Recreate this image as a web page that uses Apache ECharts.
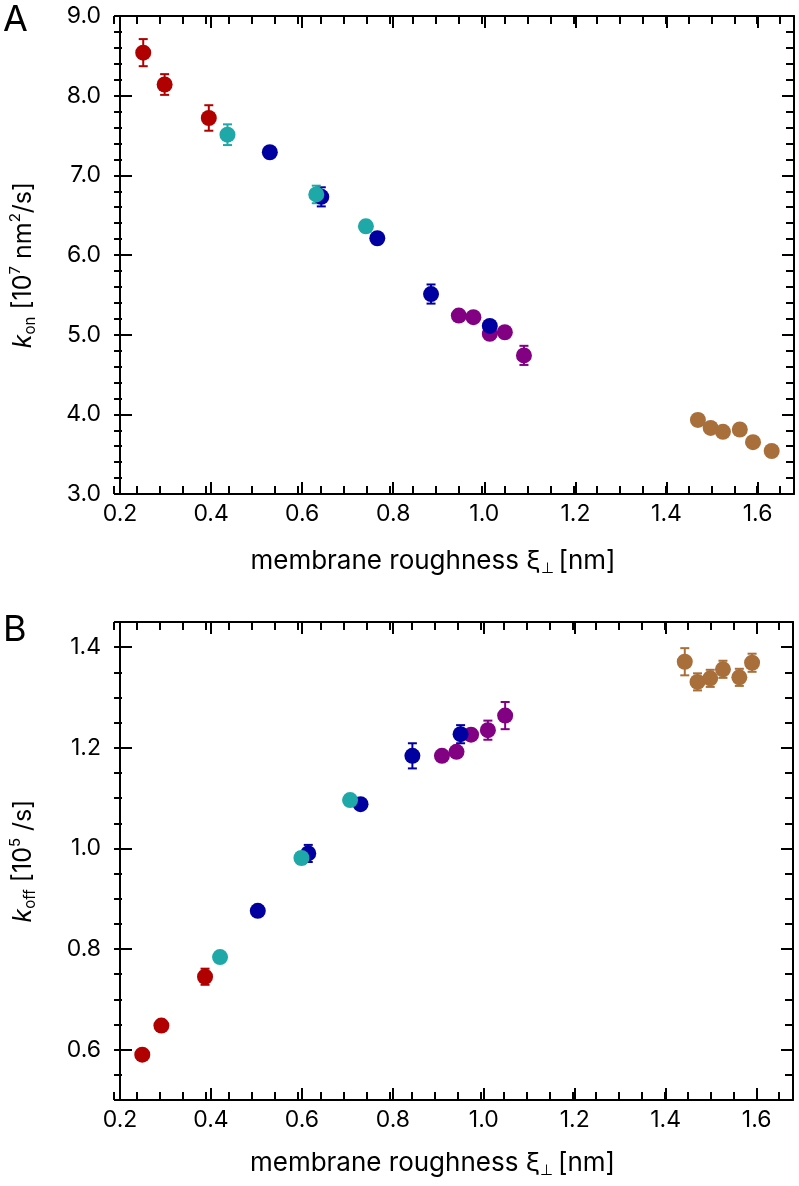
<!DOCTYPE html>
<html><head><meta charset="utf-8">
<script src="https://cdn.jsdelivr.net/npm/echarts@6/dist/echarts.min.js"></script>
<style>html,body{margin:0;padding:0;background:#fff}#c{width:799px;height:1186px}</style>
</head><body><div id="c"></div>
<script>
// ---- tick labels ----
const xTicks = [0.2, 0.4, 0.6, 0.8, 1.0, 1.2, 1.4, 1.6];
const kOnTicks = [3, 4, 5, 6, 7, 8, 9];
const kOffTicks = [0.6, 0.8, 1.0, 1.2, 1.4];

// ---- panel A: k_on, each point [roughness, value, error] ----
const kOnRed    = [[0.251, 8.54, 0.17], [0.298, 8.14, 0.13], [0.395, 7.72, 0.16]];
const kOnPurple = [[0.944, 5.24, 0.03], [0.976, 5.22, 0.03], [1.012, 5.01, 0.04], [1.045, 5.03, 0.03], [1.087, 4.74, 0.12]];
const kOnBlue   = [[0.529, 7.29, 0.06], [0.642, 6.73, 0.12], [0.765, 6.21, 0.04], [0.883, 5.51, 0.12], [1.012, 5.11, 0.06]];
const kOnCyan   = [[0.436, 7.51, 0.13], [0.631, 6.76, 0.11], [0.740, 6.36, 0.07]];
const kOnBrown  = [[1.469, 3.93, 0.07], [1.497, 3.83, 0.04], [1.524, 3.78, 0.04], [1.561, 3.81, 0.04], [1.590, 3.65, 0.04], [1.631, 3.54, 0.04]];

// ---- panel B: k_off ----
const kOffRed    = [[0.249, 0.590, 0.005], [0.291, 0.648, 0.005], [0.387, 0.745, 0.016]];
const kOffPurple = [[0.908, 1.184, 0.005], [0.940, 1.192, 0.006], [0.972, 1.226, 0.006], [1.009, 1.235, 0.019], [1.047, 1.264, 0.027]];
const kOffBlue   = [[0.503, 0.876, 0.005], [0.614, 0.990, 0.017], [0.729, 1.088, 0.006], [0.843, 1.184, 0.025], [0.949, 1.227, 0.018]];
const kOffCyan   = [[0.420, 0.784, 0.010], [0.599, 0.981, 0.012], [0.706, 1.096, 0.010]];
const kOffBrown  = [[1.442, 1.371, 0.027], [1.470, 1.331, 0.017], [1.498, 1.338, 0.017], [1.526, 1.356, 0.017], [1.562, 1.340, 0.017], [1.590, 1.369, 0.018]];

const COLORS = { red: '#b00000', purple: '#820082', blue: '#0000a0', cyan: '#1fa8a8', brown: '#a86f3b' };
const FONT = 'Inter';

function errSeries(data, color, xi, yi) {
  return {
    type: 'custom', xAxisIndex: xi, yAxisIndex: yi, data: data, z: 2, silent: true,
    encode: { x: 0, y: 1 },
    renderItem: function (params, api) {
      const x = api.value(0), y = api.value(1), e = api.value(2);
      const t = api.coord([x, y + e]), b = api.coord([x, y - e]);
      const hw = 4.5, st = { stroke: color, lineWidth: 2 };
      return { type: 'group', children: [
        { type: 'line', shape: { x1: t[0], y1: t[1], x2: b[0], y2: b[1] }, style: st },
        { type: 'line', shape: { x1: t[0] - hw, y1: t[1], x2: t[0] + hw, y2: t[1] }, style: st },
        { type: 'line', shape: { x1: b[0] - hw, y1: b[1], x2: b[0] + hw, y2: b[1] }, style: st }
      ] };
    }
  };
}
function dotSeries(data, color, xi, yi) {
  return { type: 'scatter', xAxisIndex: xi, yAxisIndex: yi, data: data.map(d => [d[0], d[1]]),
    symbol: 'circle', symbolSize: 16, itemStyle: { color: color, opacity: 1 }, z: 3, silent: true };
}

const lineSt = { color: '#000', width: 2 };
function axisCfg(o) {
  const major = o.major;
  const cfg = {
    type: 'value', gridIndex: o.grid, position: o.position, min: o.min, max: o.max,
    axisLine: { show: major, onZero: false, lineStyle: lineSt },
    axisTick: { show: true, inside: true, length: major ? 12 : 8, lineStyle: lineSt },
    axisLabel: { show: !!o.label, color: '#000', fontFamily: FONT, fontSize: o.fontSize || 22, margin: o.margin || 10,
      formatter: v => Number(v).toFixed(1) },
    splitLine: { show: false }
  };
  if (major) {
    cfg.axisTick.customValues = o.ticks;
    cfg.axisLabel.customValues = o.ticks;
  } else {
    cfg.interval = o.minor;
  }
  if (o.name) {
    const fs = o.nameSize || 25;
    cfg.name = o.name; cfg.nameLocation = 'middle'; cfg.nameGap = o.nameGap;
    if (o.nameRotate) cfg.nameRotate = o.nameRotate;
    cfg.nameTextStyle = {
      color: '#000', fontFamily: FONT, fontSize: fs, lineHeight: 30, padding: o.namePad || 0,
      rich: {
        k: { fontStyle: 'italic', fontFamily: FONT, fontSize: fs, color: '#000' },
        sub: { fontSize: 15, lineHeight: 15, verticalAlign: 'bottom', fontFamily: FONT, color: '#000' },
        sup: { fontSize: 15, lineHeight: 15, verticalAlign: 'top', fontFamily: FONT, color: '#000' }
      }
    };
  }
  return cfg;
}

const xName = 'membrane roughness ξ{sub|⊥}\u2009[nm]';
const xAxes = [], yAxes = [];
// panel A (grid 0 major, grid 1 minor)
xAxes.push(axisCfg({ grid: 0, position: 'bottom', major: true, min: 0.2, max: 1.68, ticks: xTicks, label: true, fontSize: 23, margin: 9, name: xName, nameSize: 26, nameGap: 52, namePad: [0, 48, 0, 0] }));
xAxes.push(axisCfg({ grid: 0, position: 'top', major: true, min: 0.2, max: 1.68, ticks: xTicks }));
xAxes.push(axisCfg({ grid: 1, position: 'bottom', major: false, min: 0.2, max: 1.68, minor: 0.05 }));
xAxes.push(axisCfg({ grid: 1, position: 'top', major: false, min: 0.2, max: 1.68, minor: 0.05 }));
yAxes.push(axisCfg({ grid: 0, position: 'left', major: true, min: 3, max: 9, ticks: kOnTicks, label: true, fontSize: 23, margin: 19,
  name: '{k|k}{sub|on} [10{sup|7} nm{sup|2}/s]', nameSize: 25, nameGap: 82, nameRotate: 90, namePad: [0, 20, 0, 0] }));
yAxes.push(axisCfg({ grid: 0, position: 'right', major: true, min: 3, max: 9, ticks: kOnTicks }));
yAxes.push(axisCfg({ grid: 1, position: 'left', major: false, min: 3, max: 9, minor: 0.2 }));
yAxes.push(axisCfg({ grid: 1, position: 'right', major: false, min: 3, max: 9, minor: 0.2 }));
// panel B (grid 2 major, grid 3 minor)
xAxes.push(axisCfg({ grid: 2, position: 'bottom', major: true, min: 0.2, max: 1.68, ticks: xTicks, label: true, fontSize: 23, margin: 9, name: xName, nameSize: 26, nameGap: 48, namePad: [0, 48, 0, 0] }));
xAxes.push(axisCfg({ grid: 2, position: 'top', major: true, min: 0.2, max: 1.68, ticks: xTicks }));
xAxes.push(axisCfg({ grid: 3, position: 'bottom', major: false, min: 0.2, max: 1.68, minor: 0.05 }));
xAxes.push(axisCfg({ grid: 3, position: 'top', major: false, min: 0.2, max: 1.68, minor: 0.05 }));
yAxes.push(axisCfg({ grid: 2, position: 'left', major: true, min: 0.5, max: 1.45, ticks: kOffTicks, label: true, fontSize: 23, margin: 19,
  name: '{k|k}{sub|off} [10{sup|5} /s]', nameSize: 25, nameGap: 82, nameRotate: 90 }));
yAxes.push(axisCfg({ grid: 2, position: 'right', major: true, min: 0.5, max: 1.45, ticks: kOffTicks }));
yAxes.push(axisCfg({ grid: 3, position: 'left', major: false, min: 0.5, max: 1.45, minor: 0.05 }));
yAxes.push(axisCfg({ grid: 3, position: 'right', major: false, min: 0.5, max: 1.45, minor: 0.05 }));

const order = ['red', 'purple', 'blue', 'cyan', 'brown'];
const panelA = { red: kOnRed, purple: kOnPurple, blue: kOnBlue, cyan: kOnCyan, brown: kOnBrown };
const panelB = { red: kOffRed, purple: kOffPurple, blue: kOffBlue, cyan: kOffCyan, brown: kOffBrown };
const series = [];
order.forEach(c => { series.push(errSeries(panelA[c], COLORS[c], 0, 0)); });
order.forEach(c => { series.push(dotSeries(panelA[c], COLORS[c], 0, 0)); });
order.forEach(c => { series.push(errSeries(panelB[c], COLORS[c], 4, 4)); });
order.forEach(c => { series.push(dotSeries(panelB[c], COLORS[c], 4, 4)); });

const chart = echarts.init(document.getElementById('c'), null, { renderer: 'canvas' });
chart.setOption({
  backgroundColor: '#fff',
  animation: false,
  grid: [
    { left: 114, top: 16, width: 680, height: 478 },
    { left: 114, top: 16, width: 680, height: 478 },
    { left: 114, top: 622, width: 679, height: 478 },
    { left: 114, top: 622, width: 679, height: 478 }
  ],
  xAxis: xAxes,
  yAxis: yAxes,
  series: series,
  graphic: [
    { type: 'text', left: 3, top: 2, style: { text: 'A', fontFamily: FONT, fontSize: 36, fill: '#000' } },
    { type: 'text', left: 3, top: 612, style: { text: 'B', fontFamily: FONT, fontSize: 36, fill: '#000' } }
  ]
});
</script></body></html>
